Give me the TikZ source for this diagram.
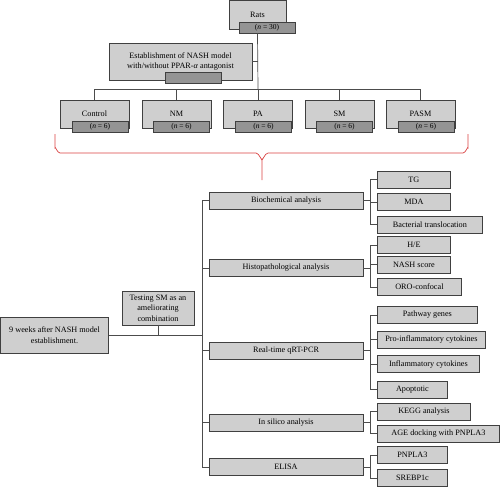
\documentclass[tikz,border=0pt]{standalone}
\usepackage{fontspec}
\setmainfont{Liberation Serif}
\usetikzlibrary{positioning}

\begin{document}
\begin{tikzpicture}[x=1pt, y=-1pt,
    box/.style={draw=black!75, fill=black!19, line width=0.8pt, inner sep=1pt, align=center, font=\fontsize{8.2}{10.5}\selectfont},
    tab/.style={draw=black!75, fill=black!42, line width=0.8pt, minimum width=56pt, minimum height=11pt, inner sep=0pt, font=\fontsize{7.5}{8}\selectfont},
    leaf/.style={box, anchor=west, minimum height=17pt},
    wire/.style={draw=black!70, line width=0.7pt},
    brace/.style={draw=red!70!white!85!black, line width=0.7pt}]
\useasboundingbox (0,0) rectangle (500,488);

% top: rats and model
\node[box, minimum width=57pt, minimum height=29pt] (rats) at (257.5,14.5) {Rats};
\node[tab] (ratsn) at (267,27.5) {(\textit{n} = 30)};
\node[box, minimum width=143pt, minimum height=37pt] (est) at (180.5,61.5) {Establishment of NASH model\\with/without PPAR-\textit{α} antagonist};
\node[tab] (estn) at (193,77.5) {};

% groups
\node[box, minimum width=69pt, minimum height=28pt] (ctrl) at (94.5,114) {Control};
\node[tab] (ctrln) at (100,126.5) {(\textit{n} = 6)};
\node[box, minimum width=69pt, minimum height=28pt] (nm) at (176.5,114) {NM};
\node[tab] (nmn) at (181.5,126.5) {(\textit{n} = 6)};
\node[box, minimum width=69pt, minimum height=28pt] (pa) at (258,114) {PA};
\node[tab] (pan) at (263.5,126.5) {(\textit{n} = 6)};
\node[box, minimum width=69pt, minimum height=28pt] (sm) at (339.5,114) {SM};
\node[tab] (smn) at (344.5,126.5) {(\textit{n} = 6)};
\node[box, minimum width=69pt, minimum height=28pt] (pasm) at (420.5,114) {PASM};
\node[tab] (pasmn) at (426,126.5) {(\textit{n} = 6)};

\coordinate (hub) at (258,89);
\draw[wire] (ratsn.south -| rats.south) -- (hub);
\draw[wire] (est.east) -- (est.east -| hub);
\draw[wire] (ctrl.north) -- (ctrl.north |- hub) -- (pasm.north |- hub) -- (pasm.north);
\draw[wire] (nm.north) -- (nm.north |- hub);
\draw[wire] (pa.north) -- (hub);
\draw[wire] (sm.north) -- (sm.north |- hub);

% brace
\draw[brace] (55,134) -- (55,148) to[out=90,in=180] (60,153) -- (256,153) to[out=0,in=-90] (262,159) -- (262,180);
\draw[brace] (468,134) -- (468,148) to[out=90,in=0] (463,153) -- (268,153) to[out=180,in=-90] (262,159);

% bottom left
\node[box, minimum width=108pt, minimum height=36pt] (weeks) at (54.5,335) {9 weeks after NASH model\\establishment.};
\node[box, minimum width=72pt, minimum height=34pt] (test) at (158,308) {Testing SM as an\\ameliorating\\combination};
\coordinate (trunk) at (202,335);
\draw[wire] (weeks.east) -- (trunk);
\draw[wire] (test.south) -- (test.south |- trunk);

% analyses
\node[box, minimum width=154pt, minimum height=17pt] (bio) at (286,200.5) {Biochemical analysis};
\node[box, minimum width=154pt, minimum height=17pt] (hist) at (286,268) {Histopathological analysis};
\node[box, minimum width=154pt, minimum height=17pt] (qrt) at (286,350.5) {Real-time qRT-PCR};
\node[box, minimum width=154pt, minimum height=17pt] (silico) at (286,422.5) {In silico analysis};
\node[box, minimum width=154pt, minimum height=17pt] (elisa) at (286,467) {ELISA};

\draw[wire] (bio.west) -- (bio.west -| trunk) -- (elisa.west -| trunk) -- (elisa.west);
\draw[wire] (hist.west) -- (hist.west -| trunk);
\draw[wire] (qrt.west) -- (qrt.west -| trunk);
\draw[wire] (silico.west) -- (silico.west -| trunk);

% results
\node[leaf, minimum width=73pt] (tg) at (377,179.5) {TG};
\node[leaf, minimum width=73pt] (mda) at (377,202) {MDA};
\node[leaf, minimum width=105pt] (bact) at (377,224.5) {Bacterial translocation};
\node[leaf, minimum width=73pt] (he) at (377,245) {H/E};
\node[leaf, minimum width=73pt] (score) at (377,264.5) {NASH score};
\node[leaf, minimum width=84pt] (oro) at (377,287) {ORO-confocal};
\node[leaf, minimum width=100pt] (path) at (377,315) {Pathway genes};
\node[leaf, minimum width=108pt] (pro) at (377,339.5) {Pro-inflammatory cytokines};
\node[leaf, minimum width=102pt] (infl) at (377,364) {Inflammatory cytokines};
\node[leaf, minimum width=70pt] (apop) at (377,389.5) {Apoptotic};
\node[leaf, minimum width=93pt] (kegg) at (377,411.5) {KEGG analysis};
\node[leaf, minimum width=122pt] (age) at (377,433.5) {AGE docking with PNPLA3};
\node[leaf, minimum width=70pt] (pnpla) at (377,455) {PNPLA3};
\node[leaf, minimum width=70pt] (srebp) at (377,478) {SREBP1c};

\coordinate (biok) at (370,200.5);
\coordinate (histk) at (370,268);
\coordinate (qrtk) at (370,350.5);
\coordinate (silicok) at (370,422.5);
\coordinate (elisak) at (370,467);
\draw[wire]
(bio.east) -- (biok)
(tg.west) -| (biok)
(bact.west) -| (biok)
(mda.west) -- (mda.west -| biok)
(hist.east) -- (histk)
(he.west) -| (histk)
(oro.west) -| (histk)
(score.west) -- (score.west -| histk)
(qrt.east) -- (qrtk)
(path.west) -| (qrtk)
(apop.west) -| (qrtk)
(pro.west) -- (pro.west -| qrtk)
(infl.west) -- (infl.west -| qrtk)
(silico.east) -- (silicok)
(kegg.west) -| (silicok)
(age.west) -| (silicok)
(elisa.east) -- (elisak)
(pnpla.west) -| (elisak)
(srebp.west) -| (elisak);
\end{tikzpicture}
\end{document}
